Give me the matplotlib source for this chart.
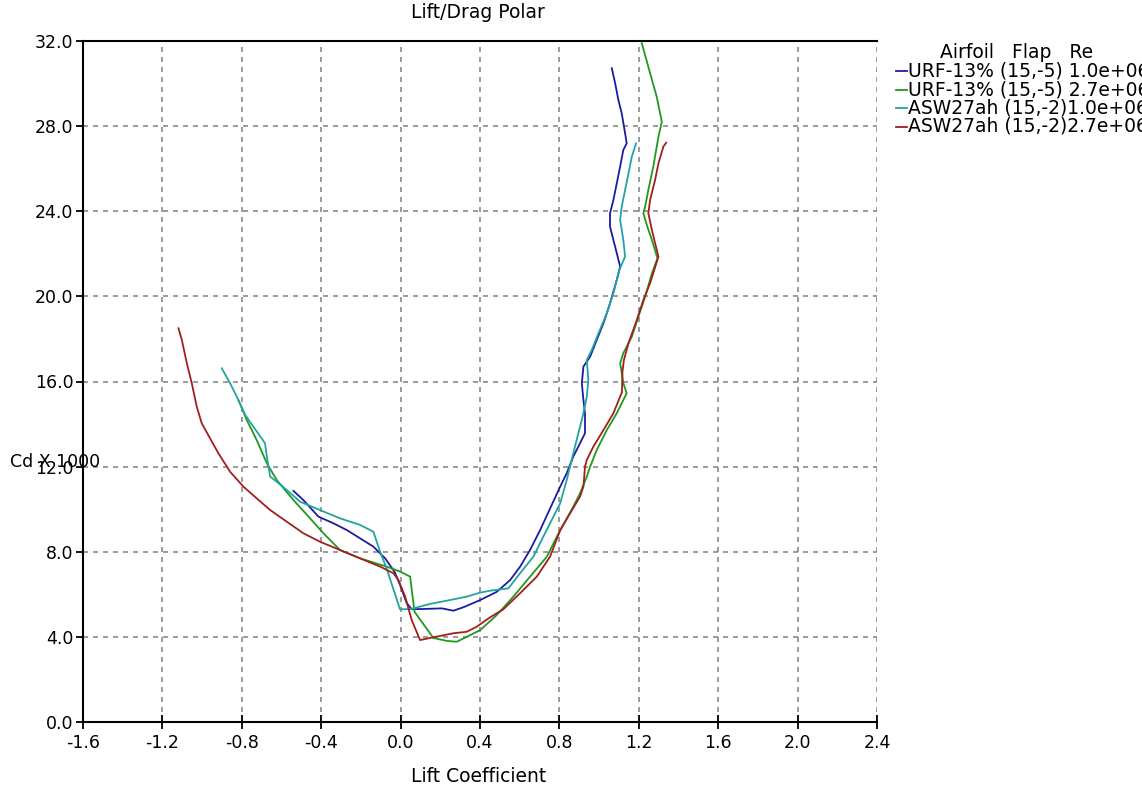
import matplotlib.pyplot as plt
from matplotlib.ticker import FormatStrFormatter, MultipleLocator

plt.rcParams["font.family"] = ["DejaVu Sans"]

# URF-13% (15,-5) Re 1.0e+06
urf_1_cl = [-0.540, -0.490, -0.414, -0.339, -0.271, -0.204, -0.137, -0.078, -0.030, -0.003,
            0.031, 0.056, 0.115, 0.208, 0.266, 0.316, 0.401, 0.485, 0.552, 0.602,
            0.652, 0.703, 0.804, 0.837, 0.870, 0.904, 0.929, 0.929, 0.921, 0.913,
            0.921, 0.955, 0.988, 1.022, 1.055, 1.089, 1.106, 1.089, 1.072, 1.055,
            1.055, 1.072, 1.089, 1.106, 1.122, 1.139, 1.131, 1.114, 1.097, 1.081, 1.064]
urf_1_cd = [10.86, 10.43, 9.65, 9.34, 9.02, 8.63, 8.24, 7.69, 7.05, 6.45,
            5.58, 5.30, 5.31, 5.34, 5.23, 5.39, 5.73, 6.12, 6.67, 7.30,
            8.08, 9.02, 11.06, 11.69, 12.47, 13.10, 13.57, 14.51, 15.13, 15.92,
            16.70, 17.17, 17.95, 18.74, 19.67, 20.77, 21.40, 22.03, 22.65, 23.28,
            23.90, 24.53, 25.31, 26.10, 26.88, 27.19, 27.66, 28.60, 29.23, 30.01, 30.72]

# URF-13% (15,-5) Re 2.7e+06
urf_27_cl = [-0.817, -0.775, -0.725, -0.674, -0.624, -0.540, -0.456, -0.389, -0.305, -0.204,
             -0.070, 0.000, 0.048, 0.070, 0.165, 0.233, 0.283, 0.401, 0.485, 0.568,
             0.652, 0.737, 0.787, 0.870, 0.904, 0.938, 0.955, 0.988, 1.039, 1.089,
             1.139, 1.122, 1.106, 1.122, 1.165, 1.198, 1.232, 1.266, 1.294, 1.266,
             1.243, 1.223, 1.232, 1.248, 1.273, 1.299, 1.316, 1.290, 1.257, 1.215]
urf_27_cd = [15.13, 14.19, 13.25, 12.16, 11.37, 10.43, 9.57, 8.87, 8.08, 7.69,
             7.30, 7.06, 6.83, 5.18, 3.95, 3.81, 3.77, 4.32, 5.03, 5.89,
             6.83, 7.77, 8.71, 10.12, 10.75, 11.53, 12.00, 12.78, 13.72, 14.51,
             15.45, 15.92, 16.86, 17.33, 18.11, 19.05, 19.99, 21.08, 21.79, 22.65,
             23.28, 23.90, 24.22, 25.00, 26.10, 27.50, 28.21, 29.39, 30.48, 31.90]

# ASW27ah (15,-2) Re 1.0e+06
asw_1_cl = [-0.901, -0.859, -0.817, -0.783, -0.742, -0.683, -0.674, -0.657, -0.624, -0.573,
            -0.506, -0.406, -0.305, -0.204, -0.137, -0.103, -0.070, -0.003, 0.048, 0.149,
            0.249, 0.333, 0.401, 0.451, 0.543, 0.602, 0.669, 0.719, 0.804, 0.837,
            0.870, 0.904, 0.921, 0.938, 0.946, 0.938, 0.963, 0.997, 1.039, 1.072,
            1.102, 1.131, 1.122, 1.106, 1.114, 1.131, 1.148, 1.165, 1.186]
asw_1_cd = [16.62, 15.92, 15.13, 14.43, 13.88, 13.10, 12.47, 11.53, 11.29, 10.90,
            10.35, 9.96, 9.57, 9.26, 8.94, 8.00, 7.20, 5.30, 5.30, 5.55,
            5.73, 5.89, 6.08, 6.17, 6.28, 6.99, 7.77, 8.71, 10.28, 11.37,
            12.63, 13.88, 14.51, 15.29, 16.07, 17.01, 17.48, 18.27, 19.21, 20.15,
            21.24, 21.87, 22.65, 23.59, 24.22, 25.00, 25.78, 26.57, 27.19]

# ASW27ah (15,-2) Re 2.7e+06
asw_27_cl = [-1.119, -1.102, -1.077, -1.052, -1.027, -1.002, -0.960, -0.918, -0.859, -0.792,
             -0.725, -0.657, -0.573, -0.490, -0.406, -0.305, -0.204, -0.103, -0.036, -0.011,
             0.023, 0.056, 0.098, 0.165, 0.266, 0.333, 0.384, 0.451, 0.518, 0.602,
             0.686, 0.753, 0.804, 0.854, 0.904, 0.921, 0.929, 0.938, 0.971, 1.022,
             1.072, 1.115, 1.118, 1.125, 1.148, 1.190, 1.223, 1.257, 1.299, 1.282,
             1.266, 1.248, 1.257, 1.282, 1.299, 1.324, 1.338]
asw_27_cd = [18.50, 17.95, 16.86, 15.92, 14.82, 14.04, 13.33, 12.63, 11.76, 11.06,
             10.51, 9.96, 9.41, 8.87, 8.47, 8.08, 7.69, 7.30, 6.99, 6.67,
             5.89, 4.79, 3.85, 3.98, 4.17, 4.24, 4.48, 4.92, 5.30, 6.05,
             6.83, 7.77, 9.02, 9.81, 10.59, 11.06, 12.00, 12.31, 12.94, 13.72,
             14.51, 15.50, 16.50, 17.01, 17.80, 18.89, 19.83, 20.62, 21.87, 22.50,
             23.12, 23.90, 24.53, 25.47, 26.25, 27.04, 27.22]

series = [
    ("URF-13% (15,-5) 1.0e+06", urf_1_cl, urf_1_cd, "#1c1ca0"),
    ("URF-13% (15,-5) 2.7e+06", urf_27_cl, urf_27_cd, "#1f9a1f"),
    ("ASW27ah (15,-2)1.0e+06", asw_1_cl, asw_1_cd, "#22a3a3"),
    ("ASW27ah (15,-2)2.7e+06", asw_27_cl, asw_27_cd, "#a41e1e"),
]

fs = 12.5       # tick labels
fs_text = 13.5  # titles and legend

fig = plt.figure(figsize=(11.42, 7.95), dpi=100)
ax = fig.add_axes([83 / 1142, 73 / 795, 794 / 1142, 681 / 795])

for name, cl, cd, color in series:
    ax.plot(cl, cd, color=color, lw=1.3, label=name, zorder=3)

ax.set_xlim(-1.6, 2.4)
ax.set_ylim(0, 32)
ax.xaxis.set_major_locator(MultipleLocator(0.4))
ax.yaxis.set_major_locator(MultipleLocator(4.0))
ax.xaxis.set_major_formatter(FormatStrFormatter("%.1f"))
ax.yaxis.set_major_formatter(FormatStrFormatter("%.1f"))
ax.grid(True, color="#8a8a8a", lw=1.2, ls=(0, (3, 3)))
ax.set_axisbelow(True)

ax.spines["right"].set_visible(False)
for s in ("left", "bottom", "top"):
    ax.spines[s].set_linewidth(1.5)
ax.tick_params(axis="x", direction="inout", length=10, width=1.3, labelsize=fs, pad=4)
ax.tick_params(axis="y", direction="out", length=5, width=1.3, labelsize=fs, pad=2)

fig.text(478 / 1142, 1 - 13 / 795, "Lift/Drag Polar", ha="center", va="center", fontsize=fs_text)
fig.text(479 / 1142, 1 - 777 / 795, "Lift Coefficient", ha="center", va="center", fontsize=fs_text)
fig.text(10 / 1142, 1 - 462 / 795, "Cd X 1000", ha="left", va="center", fontsize=fs)

# legend drawn by hand so the text runs off the right edge
fig.text(940 / 1142, 1 - 52 / 795, "Airfoil   Flap   Re", ha="left", va="center", fontsize=fs_text)
for i, (name, cl, cd, color) in enumerate(series):
    yy = 1 - (71 + i * 18.5) / 795
    fig.add_artist(plt.Line2D([896 / 1142, 907 / 1142], [yy, yy], color=color, lw=1.3))
    fig.text(908 / 1142, yy, name, ha="left", va="center", fontsize=fs_text)

fig.savefig("out.png", dpi=100)
